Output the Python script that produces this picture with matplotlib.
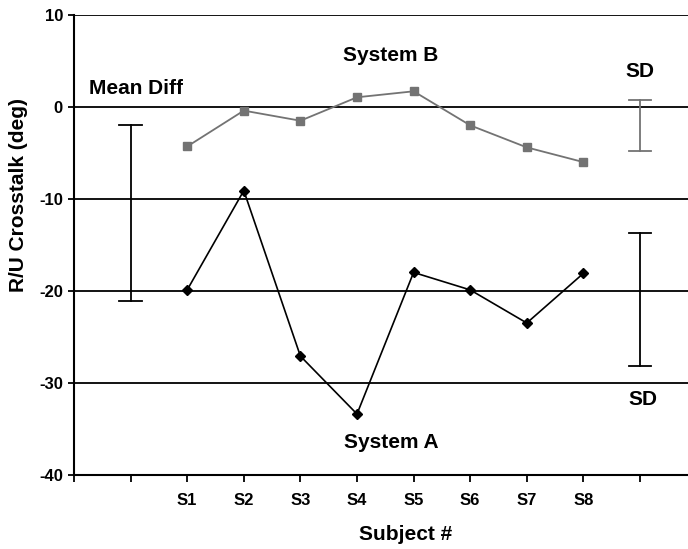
import matplotlib.pyplot as plt

# data
subjects = ["S1", "S2", "S3", "S4", "S5", "S6", "S7", "S8"]
system_a = [-19.9, -9.1, -27.1, -33.4, -18.0, -19.9, -23.5, -18.1]
system_b = [-4.3, -0.4, -1.5, 1.05, 1.7, -2.0, -4.4, -6.0]
mean_diff_range = [-21.1, -2.0]
sd_a_range = [-28.2, -13.7]
sd_b_range = [-4.8, 0.8]
y_ticks = [-40, -30, -20, -10, 0, 10]

plt.rcParams['font.family'] = ['Liberation Sans', 'DejaVu Sans']
plt.rcParams['font.weight'] = 'bold'

W, H = 688, 549
fig = plt.figure(figsize=(W / 100, H / 100), dpi=100)
ax = fig.add_axes([74 / W, 1 - 474.7 / H, 614 / W, (474.7 - 15) / H])

gray = '#737373'
pos = list(range(2, 2 + len(subjects)))

# gridlines
for v in y_ticks[1:]:
    ax.axhline(v, color='black', lw=1.3, zorder=1)

ax.plot(pos, system_a, color='black', lw=1.2, marker='D', ms=5, zorder=3)
ax.plot(pos, system_b, color=gray, lw=1.3, marker='s', ms=5.5, zorder=3)

def bar(x, rng, color):
    ax.plot([x, x], rng, color=color, lw=1.3, zorder=2)
    for v in rng:
        ax.plot([x - 0.2, x + 0.2], [v, v], color=color, lw=1.3, zorder=2)

bar(1, mean_diff_range, 'black')
bar(10, sd_a_range, 'black')
bar(10, sd_b_range, gray)

fs = 15
ax.text(1.1, 2.0, "Mean Diff", ha='center', va='center', fontsize=fs, fontweight='bold')
ax.text(5.6, 5.6, "System B", ha='center', va='center', fontsize=fs, fontweight='bold')
ax.text(5.6, -36.5, "System A", ha='center', va='center', fontsize=fs, fontweight='bold')
ax.text(10.0, 3.9, "SD", ha='center', va='center', fontsize=fs, fontweight='bold')
ax.text(10.05, -31.8, "SD", ha='center', va='center', fontsize=fs, fontweight='bold')

ax.set_xlim(0, 614 / 56.6)
ax.set_ylim(-40, 10)
ax.set_yticks(y_ticks)
ax.set_yticklabels([str(v) for v in y_ticks], fontsize=12, fontweight='bold')
ax.set_xticks(range(0, 11))
ax.set_xticklabels([""] * 2 + subjects + [""], fontsize=12, fontweight='bold')
ax.tick_params(axis='x', direction='out', length=5, width=1.3, pad=8)
ax.tick_params(axis='y', direction='out', length=4, width=1.3, pad=4)

for s in ['top', 'right']:
    ax.spines[s].set_visible(False)
for s in ['left', 'bottom']:
    ax.spines[s].set_linewidth(1.5)

fig.text(19 / W, 1 - 195 / H, "R/U Crosstalk (deg)", rotation=90, ha='center', va='center',
         fontsize=fs, fontweight='bold')
fig.text(406 / W, 1 - 535 / H, "Subject #", ha='center', va='center',
         fontsize=fs, fontweight='bold')

fig.savefig("out.png", dpi=100)
